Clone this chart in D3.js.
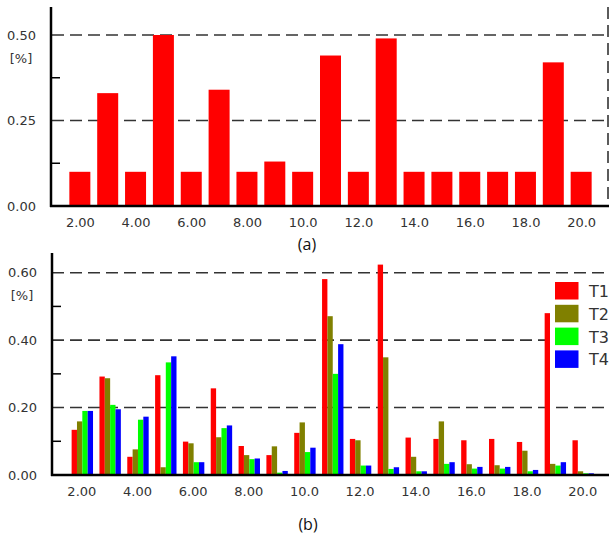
<!DOCTYPE html>
<html>
<head>
<meta charset="utf-8">
<script src="https://cdn.jsdelivr.net/npm/d3@7"></script>
<style>
  body { margin: 0; background: #fff; }
  svg { display: block; }
  .tick-label { font-family: "DejaVu Sans", Verdana, sans-serif; font-size: 13px; fill: #333; }
  .legend-label { font-family: "DejaVu Sans", Verdana, sans-serif; font-size: 16px; fill: #333; }
  .caption { font-family: "Open Sans", "Liberation Sans", sans-serif; font-size: 16px; fill: #111; }
</style>
</head>
<body>
<div id="chart"></div>
<script>
// categories on the x axis (2 .. 20)
const categories = [2, 3, 4, 5, 6, 7, 8, 9, 10, 11, 12, 13, 14, 15, 16, 17, 18, 19, 20];
const xTickValues = [2, 4, 6, 8, 10, 12, 14, 16, 18, 20];
const xTickLabels = ["2.00", "4.00", "6.00", "8.00", "10.0", "12.0", "14.0", "16.0", "18.0", "20.0"];

// chart (a)
const valuesA = [0.10, 0.33, 0.10, 0.50, 0.10, 0.34, 0.10, 0.13, 0.10, 0.44, 0.10, 0.49, 0.10, 0.10, 0.10, 0.10, 0.10, 0.42, 0.10];
const yTicksA = [0, 0.25, 0.5];
const yTickLabelsA = ["0.00", "0.25", "0.50"];
const yMinorA = [0.125, 0.375];

// chart (b)
const seriesNames = ["T1", "T2", "T3", "T4"];
const seriesColors = ["#ff0000", "#808000", "#00ff00", "#0000ff"];
const valuesT1 = [0.134, 0.292, 0.054, 0.296, 0.099, 0.257, 0.086, 0.059, 0.125, 0.581, 0.107, 0.624, 0.111, 0.107, 0.103, 0.107, 0.098, 0.480, 0.103];
const valuesT2 = [0.159, 0.287, 0.076, 0.023, 0.094, 0.112, 0.059, 0.085, 0.156, 0.471, 0.103, 0.349, 0.054, 0.159, 0.032, 0.029, 0.072, 0.033, 0.011];
const valuesT3 = [0.190, 0.208, 0.164, 0.334, 0.038, 0.139, 0.047, 0.007, 0.068, 0.300, 0.028, 0.018, 0.011, 0.033, 0.019, 0.019, 0.011, 0.028, 0.005];
const valuesT4 = [0.190, 0.195, 0.173, 0.352, 0.038, 0.147, 0.049, 0.012, 0.081, 0.388, 0.028, 0.023, 0.011, 0.038, 0.024, 0.024, 0.015, 0.038, 0.005];
const yTicksB = [0, 0.2, 0.4, 0.6];
const yTickLabelsB = ["0.00", "0.20", "0.40", "0.60"];
const yMinorB = [0.1, 0.3, 0.5];

const W = 609, H = 534;
const svg = d3.select("#chart").append("svg")
  .attr("width", W)
  .attr("height", H);

// strip d3's default text styling so the css class applies
function styleTicks(g) {
  g.select(".domain").remove();
  g.attr("font-size", null).attr("font-family", null);
  g.selectAll("text").attr("class", "tick-label").attr("fill", null);
}

// ---------- chart (a) ----------
const xA = d3.scaleLinear().domain([1, 21]).range([52, 609]);
const yA = d3.scaleLinear().domain([0, 0.5]).range([206, 35]);
const gA = svg.append("g");

// dashed grid lines
gA.selectAll("line.grid")
  .data(yTicksA.filter(d => d > 0))
  .enter().append("line")
  .attr("x1", 52).attr("x2", 608)
  .attr("y1", d => yA(d)).attr("y2", d => yA(d))
  .attr("stroke", "#333").attr("stroke-width", 1.6)
  .attr("stroke-dasharray", "12,6");

// dashed right border
gA.append("line")
  .attr("x1", 608).attr("x2", 608)
  .attr("y1", 7).attr("y2", 206)
  .attr("stroke", "#333").attr("stroke-width", 1.6)
  .attr("stroke-dasharray", "12,6");

gA.selectAll("rect.bar")
  .data(categories)
  .enter().append("rect")
  .attr("x", d => xA(d) - 10.5)
  .attr("width", 21)
  .attr("y", (d, i) => yA(valuesA[i]))
  .attr("height", (d, i) => yA(0) - yA(valuesA[i]))
  .attr("fill", "#ff0000");

// axes
const yAxisA = d3.axisLeft(yA).tickValues(yTicksA).tickFormat((d, i) => yTickLabelsA[i]).tickSize(0).tickPadding(15);
gA.append("g").attr("transform", "translate(51,0)").call(yAxisA).call(styleTicks);

gA.selectAll("line.minor")
  .data(yMinorA)
  .enter().append("line")
  .attr("x1", 51).attr("x2", 60)
  .attr("y1", d => yA(d)).attr("y2", d => yA(d))
  .attr("stroke", "#000").attr("stroke-width", 1.5);

const xAxisA = d3.axisBottom(xA).tickValues(xTickValues).tickFormat((d, i) => xTickLabels[i]).tickSize(0).tickPadding(12);
gA.append("g").attr("transform", "translate(0,206)").call(xAxisA).call(styleTicks);

gA.append("line").attr("x1", 51).attr("x2", 51).attr("y1", 7).attr("y2", 207)
  .attr("stroke", "#000").attr("stroke-width", 2.5);
gA.append("line").attr("x1", 50).attr("x2", 609).attr("y1", 206).attr("y2", 206)
  .attr("stroke", "#000").attr("stroke-width", 2.5);

gA.append("text").attr("class", "tick-label").attr("x", 21).attr("y", 63)
  .attr("text-anchor", "middle").text("[%]");
gA.append("text").attr("class", "caption").attr("x", 307).attr("y", 250)
  .attr("text-anchor", "middle").text("(a)");

// ---------- chart (b) ----------
const xB = d3.scaleLinear().domain([1, 21]).range([54.5, 611]);
const yB = d3.scaleLinear().domain([0, 0.6]).range([475, 272.7]);
const gB = svg.append("g");
const seriesValues = [valuesT1, valuesT2, valuesT3, valuesT4];
const barW = 5.35;

gB.selectAll("line.grid")
  .data(yTicksB.filter(d => d > 0))
  .enter().append("line")
  .attr("x1", 52).attr("x2", 609)
  .attr("y1", d => yB(d)).attr("y2", d => yB(d))
  .attr("stroke", "#333").attr("stroke-width", 1.6)
  .attr("stroke-dasharray", "12,6");

// legend background hides the grid behind it
gB.append("rect").attr("x", 552).attr("y", 276).attr("width", 60).attr("height", 98).attr("fill", "#fff");

seriesValues.forEach((vals, s) => {
  gB.selectAll("rect.s" + s)
    .data(categories)
    .enter().append("rect")
    .attr("x", d => xB(d) - 2 * barW + s * barW)
    .attr("width", barW)
    .attr("y", (d, i) => yB(vals[i]))
    .attr("height", (d, i) => yB(0) - yB(vals[i]))
    .attr("fill", seriesColors[s]);
});

const yAxisB = d3.axisLeft(yB).tickValues(yTicksB).tickFormat((d, i) => yTickLabelsB[i]).tickSize(0).tickPadding(15);
gB.append("g").attr("transform", "translate(52,0)").call(yAxisB).call(styleTicks);

gB.selectAll("line.minor")
  .data(yMinorB)
  .enter().append("line")
  .attr("x1", 52).attr("x2", 61)
  .attr("y1", d => yB(d)).attr("y2", d => yB(d))
  .attr("stroke", "#000").attr("stroke-width", 1.5);

const xAxisB = d3.axisBottom(xB).tickValues(xTickValues).tickFormat((d, i) => xTickLabels[i]).tickSize(0).tickPadding(12);
gB.append("g").attr("transform", "translate(-1,475)").call(xAxisB).call(styleTicks);

gB.append("line").attr("x1", 52).attr("x2", 52).attr("y1", 253).attr("y2", 476)
  .attr("stroke", "#000").attr("stroke-width", 2.5);
gB.append("line").attr("x1", 51).attr("x2", 609).attr("y1", 475).attr("y2", 475)
  .attr("stroke", "#000").attr("stroke-width", 2.5);

gB.append("text").attr("class", "tick-label").attr("x", 22).attr("y", 300)
  .attr("text-anchor", "middle").text("[%]");
gB.append("text").attr("class", "caption").attr("x", 308).attr("y", 530)
  .attr("text-anchor", "middle").text("(b)");

// legend
const legend = gB.append("g").attr("transform", "translate(555,282)");
seriesNames.forEach((name, i) => {
  legend.append("rect")
    .attr("x", 0).attr("y", i * 22.8)
    .attr("width", 23.5).attr("height", 17.5)
    .attr("fill", seriesColors[i]);
  legend.append("text")
    .attr("class", "legend-label")
    .attr("x", 34).attr("y", i * 22.8 + 15)
    .text(name);
});
</script>
</body>
</html>
